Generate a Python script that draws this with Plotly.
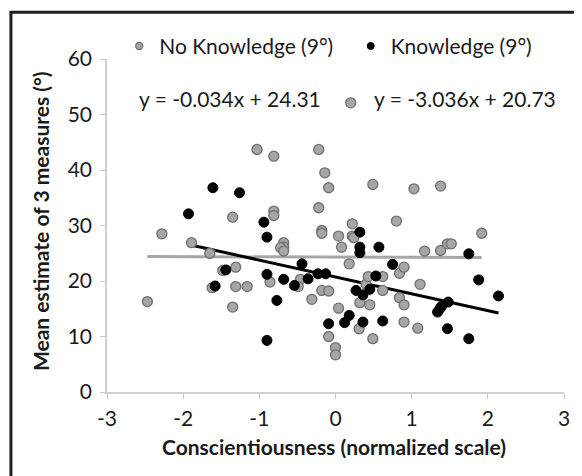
import plotly.graph_objects as go
import numpy as np

# ---- data ----
nk_x = [-2.47, -2.28, -1.89, -1.65, -1.62, -1.48, -1.31, -1.35, -1.31, -1.16, -1.35,
        -1.03, -0.81, -0.81, -0.81, -0.86, -0.68, -0.68, -0.72, -0.68, -0.46, -0.49,
        -0.31, -0.22, -0.14, -0.09, -0.22, -0.18, -0.18, -0.18, -0.09, -0.09, 0.0,
        0.0, 0.04, 0.08, 0.04, 0.18, 0.20, 0.22, 0.22, 0.24, 0.31, 0.32, 0.40, 0.43,
        0.45, 0.49, 0.49, 0.62, 0.62, 0.80, 0.84, 0.90, 0.84, 0.90, 0.90, 1.03, 1.08,
        1.11, 1.17, 1.38, 1.38, 1.47, 1.52, 1.92]
nk_y = [16.3, 28.5, 26.9, 25.0, 18.8, 21.9, 22.5, 31.5, 19.0, 19.0, 15.3,
        43.7, 42.5, 32.6, 31.8, 19.8, 26.9, 26.1, 26.0, 25.4, 20.3, 19.0,
        16.7, 43.7, 39.5, 36.8, 33.2, 29.1, 28.6, 18.3, 18.2, 10.0, 8.0,
        6.7, 28.1, 26.1, 15.1, 23.1, 52.1, 30.3, 28.1, 27.8, 11.4, 16.1, 19.4, 20.8,
        15.7, 37.4, 9.6, 20.8, 18.3, 30.8, 21.4, 22.5, 17.0, 15.7, 12.6, 36.6, 11.5,
        19.4, 25.4, 37.1, 25.5, 26.7, 26.7, 28.6]

k_x = [-1.93, -1.61, -1.58, -1.44, -1.26, -0.94, -0.90, -0.90, -0.90, -0.77, -0.68,
       -0.54, -0.44, -0.36, -0.23, -0.13, -0.09, 0.12, 0.18, 0.27, 0.32, 0.32, 0.32,
       0.36, 0.36, 0.45, 0.53, 0.57, 0.62, 0.75, 1.34, 1.37, 1.39, 1.48, 1.47, 1.75,
       1.75, 1.88, 2.14]
k_y = [32.1, 36.8, 19.1, 22.0, 35.9, 30.6, 27.9, 21.2, 9.3, 16.5, 20.3,
       19.2, 23.1, 20.4, 21.3, 21.3, 12.3, 12.5, 13.8, 18.3, 28.8, 26.1, 25.1,
       17.5, 12.6, 18.5, 20.9, 26.1, 12.8, 23.0, 14.4, 15.0, 15.4, 16.2, 11.4, 24.9,
       9.6, 20.2, 17.3]

series_names = ["No Knowledge (9°)", "Knowledge (9°)"]
trend_slope = [-0.034, -3.036]
trend_icept = [24.31, 20.73]
eq_labels = ["y = -0.034x + 24.31", "y = -3.036x + 20.73"]
x_ticks = [-3, -2, -1, 0, 1, 2, 3]
y_ticks = [0, 10, 20, 30, 40, 50, 60]
x_title = "Conscientiousness (normalized scale)"
y_title = "Mean estimate of 3 measures (°)"

FONT = "Lato"
TXT = "#1a1a1a"
GRAY_FILL = "#a6a6a6"
GRAY_LINE = "#707070"

# page body has an 8px margin: work in viewport coords and shift
OFF = 8
W, H = 574, 468
L_ref, R_ref, T_ref, B_ref = 106.7, 566.7, 58.7, 391.7
L, T = L_ref - OFF, T_ref - OFF
pw, ph = R_ref - L_ref, B_ref - T_ref
R = W - L - pw
B = H - T - ph


def px(xv):  # viewport x -> paper
    return (xv - OFF - L) / pw


def py(yv):  # viewport y -> paper
    return (B_ref - yv) / ph


fig = go.Figure()

# trend lines
for xs, m, b, col in [(nk_x, trend_slope[0], trend_icept[0], "#a6a6a6"),
                      (k_x, trend_slope[1], trend_icept[1], "#000000")]:
    xr = np.array([min(xs), max(xs)])
    fig.add_trace(go.Scatter(x=xr, y=m * xr + b, mode="lines",
                             line=dict(color=col, width=3), showlegend=False,
                             hoverinfo="skip"))

gray_marker = dict(color=GRAY_FILL, line=dict(color=GRAY_LINE, width=1.3))
black_marker = dict(color="#000000", line=dict(color="#000000", width=1))

fig.add_trace(go.Scatter(x=nk_x, y=nk_y, mode="markers", name=series_names[0],
                         marker=dict(size=10, **gray_marker), showlegend=False))
fig.add_trace(go.Scatter(x=k_x, y=k_y, mode="markers", name=series_names[1],
                         marker=dict(size=10, **black_marker), showlegend=False))

# legend-only entries (smaller symbols, as in the original)
fig.add_trace(go.Scatter(x=[None], y=[None], mode="markers", name=series_names[0],
                         marker=dict(size=7, **gray_marker), legend="legend"))
fig.add_trace(go.Scatter(x=[None], y=[None], mode="markers", name=series_names[1],
                         marker=dict(size=7, **black_marker), legend="legend2"))

legend_common = dict(orientation="h", font=dict(family=FONT, size=21, color=TXT),
                     bgcolor="rgba(0,0,0,0)", itemsizing="trace", itemwidth=30,
                     xanchor="left", yanchor="middle", borderwidth=0)

axis_common = dict(showgrid=False, zeroline=False, showline=True, linecolor="#d0d0d0",
                   linewidth=1.5, ticks="outside", ticklen=5, tickcolor="#c8c8c8",
                   tickwidth=1.2, tickfont=dict(family=FONT, size=21, color=TXT))

fig.update_layout(
    width=W, height=H,
    margin=dict(l=L, r=R, t=T, b=B, pad=0),
    paper_bgcolor="white", plot_bgcolor="white",
    font=dict(family=FONT, size=21, color=TXT),
    legend=dict(x=px(119), y=py(46), **legend_common),
    legend2=dict(x=px(352), y=py(46), **legend_common),
    xaxis=dict(range=[-3, 3], tickvals=x_ticks, ticktext=[str(v) for v in x_ticks],
               ticklabelstandoff=2, **axis_common),
    yaxis=dict(range=[0, 60], tickvals=y_ticks, ticktext=[str(v) for v in y_ticks],
               ticklabelstandoff=4, **axis_common),
    shapes=[dict(type="rect", xref="paper", yref="paper",
                 x0=px(10), x1=px(700), y0=py(700), y1=py(12),
                 line=dict(color="#1e1e1e", width=3), fillcolor="rgba(0,0,0,0)",
                 layer="above")],
    annotations=[
        dict(text=eq_labels[0], xref="paper", yref="paper", x=px(137), y=py(98),
             xanchor="left", yanchor="middle", showarrow=False,
             font=dict(family=FONT, size=21, color=TXT)),
        dict(text=eq_labels[1], xref="paper", yref="paper", x=px(373), y=py(98),
             xanchor="left", yanchor="middle", showarrow=False,
             font=dict(family=FONT, size=21, color=TXT)),
        dict(text="<b>" + x_title + "</b>", xref="paper", yref="paper",
             x=px(335), y=py(446), xanchor="center", yanchor="middle", showarrow=False,
             font=dict(family=FONT, size=21, color=TXT)),
        dict(text="<b>" + y_title + "</b>", xref="paper", yref="paper",
             x=px(40), y=py(221), xanchor="center", yanchor="middle", showarrow=False,
             textangle=-90, font=dict(family=FONT, size=21, color=TXT)),
    ],
)

fig.write_html("out.html")
